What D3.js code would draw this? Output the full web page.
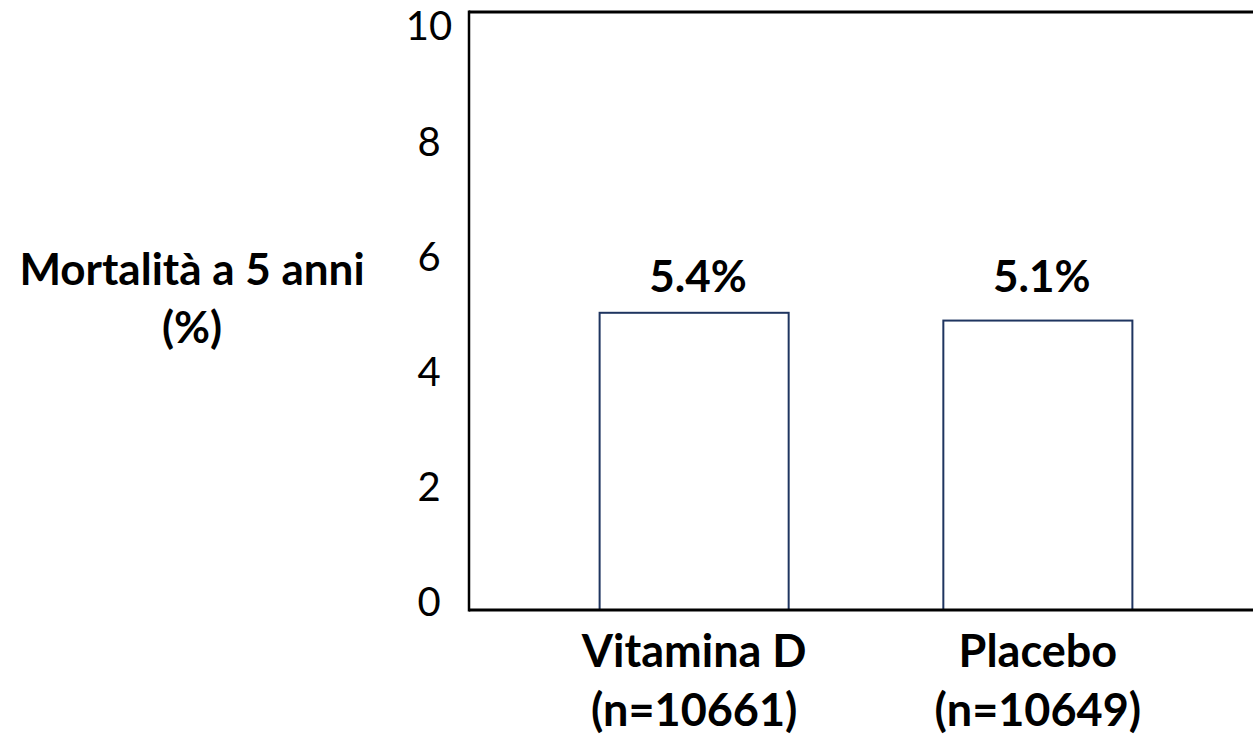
<!DOCTYPE html>
<html>
<head>
<meta charset="utf-8">
<script src="https://cdn.jsdelivr.net/npm/d3@7"></script>
<style>
  html, body { margin: 0; padding: 0; background: #fff; }
  svg { display: block; }
  text { font-family: Lato, "Open Sans", sans-serif; fill: #000; }
</style>
</head>
<body>
<svg id="chart" width="1253" height="738"></svg>
<script>
// ---- data ----
const categories = ["Vitamina D", "Placebo"];
const sampleSizes = ["(n=10661)", "(n=10649)"];
const barHeights = [4.97, 4.84];          // drawn bar heights
const valueLabels = ["5.4%", "5.1%"];     // printed data labels
const yTicks = [0, 2, 4, 6, 8, 10];
const yTitleLines = ["Mortalità a 5 anni", "(%)"];

// ---- layout ----
const W = 1253, H = 738;
const plot = { left: 469, right: 1263, top: 12, bottom: 610 };

const svg = d3.select("#chart");

const x = d3.scaleBand()
  .domain(categories)
  .range([plot.left, plot.right])
  .paddingInner(0.45)
  .paddingOuter(0.38);

const y = d3.scaleLinear().domain([0, 10]).range([plot.bottom, plot.top]);
// tick labels sit slightly inside the frame
const yLab = d3.scaleLinear().domain([0, 10]).range([603, 27]);

// bars
svg.append("g").selectAll("rect")
  .data(categories)
  .join("rect")
  .attr("x", d => x(d))
  .attr("width", x.bandwidth())
  .attr("y", (d, i) => y(barHeights[i]))
  .attr("height", (d, i) => y(0) - y(barHeights[i]))
  .attr("fill", "#fff")
  .attr("stroke", "#1f3560")
  .attr("stroke-width", 2);

// frame: left, top, bottom
const frame = svg.append("g").attr("stroke", "#000").attr("fill", "none");
frame.append("line").attr("x1", plot.left).attr("x2", plot.left)
  .attr("y1", plot.top - 1.5).attr("y2", plot.bottom + 1.5).attr("stroke-width", 2.5);
frame.append("line").attr("x1", plot.left).attr("x2", W)
  .attr("y1", plot.top).attr("y2", plot.top).attr("stroke-width", 3);
frame.append("line").attr("x1", plot.left).attr("x2", W)
  .attr("y1", plot.bottom).attr("y2", plot.bottom).attr("stroke-width", 3);

// y axis tick labels
const yAxis = d3.axisLeft(yLab).tickValues(yTicks).tickSize(0).tickPadding(40);
const ga = svg.append("g").attr("transform", `translate(${plot.left},0)`).call(yAxis);
ga.select(".domain").remove();
ga.selectAll("text")
  .attr("text-anchor", "middle")
  .style("font-family", "Lato, 'Open Sans', sans-serif")
  .style("font-size", "40px")
  .attr("fill", "#000");

// value labels
const topVal = d3.max(barHeights);
svg.append("g").selectAll("text")
  .data(categories)
  .join("text")
  .attr("x", d => x(d) + x.bandwidth() / 2 + 4)
  .attr("y", y(topVal) - 21)
  .attr("text-anchor", "middle")
  .style("font-size", "44px")
  .style("font-weight", "bold")
  .text((d, i) => valueLabels[i]);

// category labels
const cat = svg.append("g").selectAll("text")
  .data(categories)
  .join("text")
  .attr("text-anchor", "middle")
  .style("font-size", "45px")
  .style("font-weight", "bold");
cat.append("tspan")
  .attr("x", d => x(d) + x.bandwidth() / 2)
  .attr("y", 667)
  .text(d => d);
cat.append("tspan")
  .attr("x", d => x(d) + x.bandwidth() / 2)
  .attr("y", 726)
  .text((d, i) => sampleSizes[i]);

// y title
svg.append("g").selectAll("text")
  .data(yTitleLines)
  .join("text")
  .attr("x", 192)
  .attr("y", (d, i) => 285 + i * 58)
  .attr("text-anchor", "middle")
  .style("font-size", "44px")
  .style("font-weight", "bold")
  .text(d => d);
</script>
</body>
</html>
